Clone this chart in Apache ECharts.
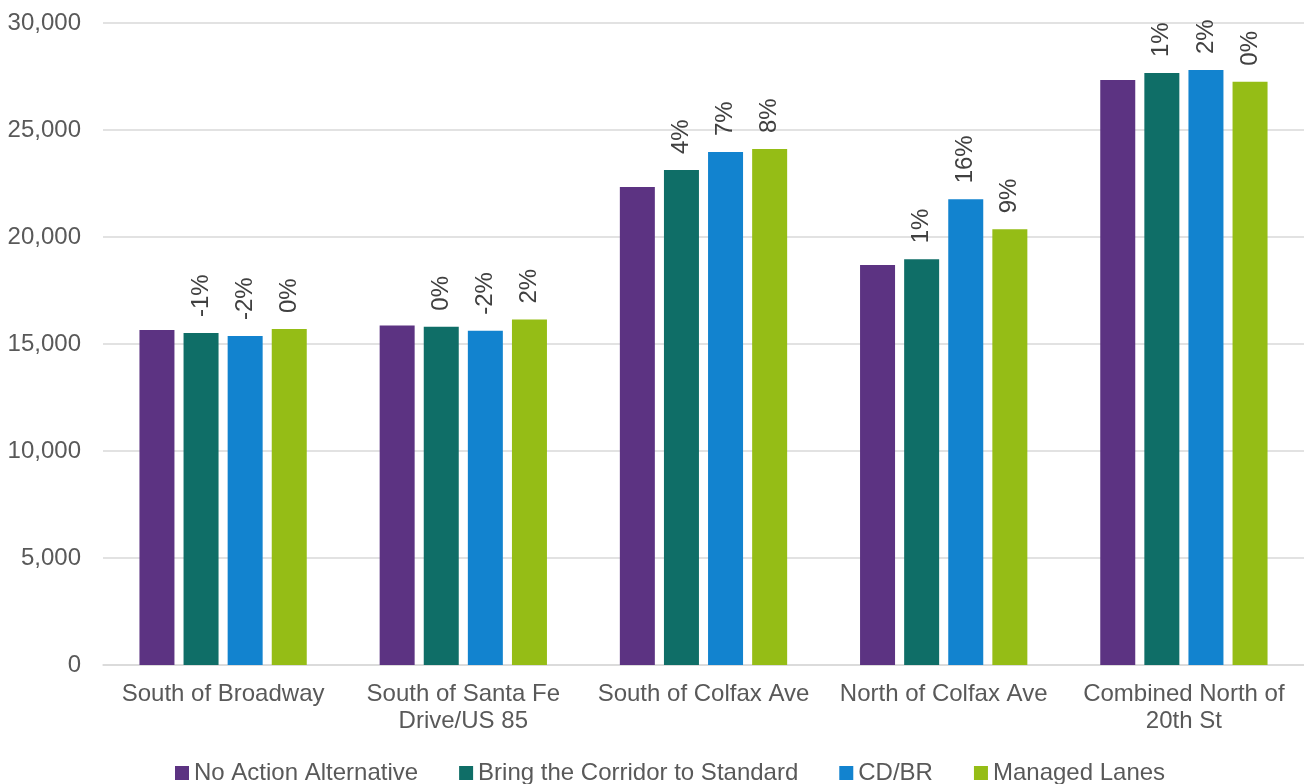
<!DOCTYPE html>
<html>
<head>
<meta charset="utf-8">
<title>Daily traffic volumes by location</title>
<script src="https://cdn.jsdelivr.net/npm/echarts@6/dist/echarts.min.js"></script>
<style>
  html, body { margin: 0; padding: 0; background: #ffffff; }
  #chart { width: 1304px; height: 784px; }
</style>
</head>
<body>
<div id="chart"></div>
<script>
// Locations along the corridor
const categories = [
  'South of Broadway',
  'South of Santa Fe\nDrive/US 85',
  'South of Colfax Ave',
  'North of Colfax Ave',
  'Combined North of\n20th St'
];

// Daily volumes per alternative
const noAction = [15650, 15860, 22340, 18690, 27340];
const corridorStandard = [15510, 15810, 23130, 18960, 27660];
const cdbr = [15370, 15620, 23970, 21760, 27800];
const managedLanes = [15700, 16140, 24110, 20360, 27260];

// Change relative to the No Action Alternative
const pctCorridorStandard = ['-1%', '0%', '4%', '1%', '1%'];
const pctCdbr = ['-2%', '-2%', '7%', '16%', '2%'];
const pctManagedLanes = ['0%', '2%', '8%', '9%', '0%'];

// Axis ticks
const yMin = 0, yMax = 30000, yStep = 5000;

const FONT = '"Liberation Sans", Arial, sans-serif';
const TEXT = '#595959';

function pctLabel(labels) {
  return {
    show: true,
    position: 'top',
    rotate: 90,
    align: 'left',
    verticalAlign: 'middle',
    distance: 16,
    fontFamily: FONT,
    fontSize: 24,
    color: '#404040',
    formatter: p => labels[p.dataIndex]
  };
}

function barSeries(name, data, color, labels) {
  const s = {
    name, type: 'bar', data,
    barWidth: 35, barGap: '26%',
    itemStyle: { color },
    emphasis: { disabled: true }
  };
  if (labels) s.label = pctLabel(labels);
  return s;
}

const chart = echarts.init(document.getElementById('chart'), null, { renderer: 'canvas' });
chart.setOption({
  animation: false,
  textStyle: { fontFamily: FONT },
  grid: { left: 103, right: 0, top: 23, bottom: 119, containLabel: false },
  legend: {
    left: 170, top: 756,
    itemWidth: 14, itemHeight: 14, itemGap: 41,
    icon: 'rect',
    textStyle: { fontFamily: FONT, fontSize: 24, color: TEXT },
    data: ['No Action Alternative', 'Bring the Corridor to Standard', 'CD/BR', 'Managed Lanes']
  },
  xAxis: {
    type: 'category',
    data: categories,
    axisTick: { show: false },
    axisLine: { lineStyle: { color: '#D9D9D9', width: 1.5 } },
    axisLabel: {
      margin: 16, fontFamily: FONT, fontSize: 24, color: TEXT, lineHeight: 27, interval: 0
    }
  },
  yAxis: {
    type: 'value',
    min: yMin, max: yMax, interval: yStep,
    axisLine: { show: false },
    axisTick: { show: false },
    splitLine: { lineStyle: { color: '#D9D9D9', width: 1.5 } },
    axisLabel: {
      margin: 22, fontFamily: FONT, fontSize: 24, color: TEXT,
      formatter: v => v.toLocaleString('en-US')
    }
  },
  series: [
    barSeries('No Action Alternative', noAction, '#5C3382', null),
    barSeries('Bring the Corridor to Standard', corridorStandard, '#0F6E67', pctCorridorStandard),
    barSeries('CD/BR', cdbr, '#1283CF', pctCdbr),
    barSeries('Managed Lanes', managedLanes, '#95BD16', pctManagedLanes)
  ]
});
</script>
</body>
</html>
